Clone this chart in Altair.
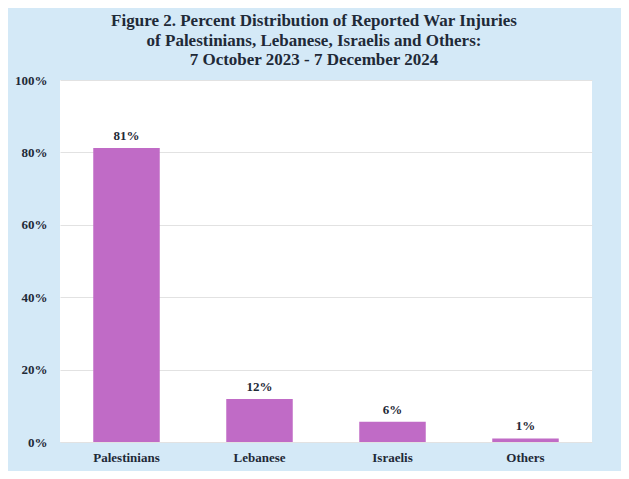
import altair as alt
import pandas as pd

categories = ["Palestinians", "Lebanese", "Israelis", "Others"]
values = [81.2, 11.9, 5.6, 1.0]
labels = ["81%", "12%", "6%", "1%"]
y_ticks = [0, 20, 40, 60, 80, 100]

df = pd.DataFrame({"group": categories, "pct": values, "label": labels})

FONT = "Liberation Serif"
TXT = "#1f2a37"

base = alt.Chart(df).encode(
    x=alt.X("group:N", sort=categories, title=None,
            scale=alt.Scale(paddingInner=0.5, paddingOuter=0.25),
            axis=alt.Axis(labelAngle=0, labelFont=FONT, labelFontWeight="bold",
                          labelFontSize=13, labelColor=TXT, labelPadding=9,
                          domain=False, ticks=False)),
)

bars = base.mark_bar(color="#c06bc6").encode(
    y=alt.Y("pct:Q", title=None,
            scale=alt.Scale(domain=[0, 100], nice=False),
            axis=alt.Axis(values=y_ticks, labelExpr="datum.value + '%'",
                          labelFont=FONT, labelFontWeight="bold", labelFontSize=13,
                          labelColor=TXT, labelPadding=13, domain=False, ticks=False,
                          gridColor="#e2e2e2", gridWidth=1))
)

text = base.mark_text(dy=-5, font=FONT, fontWeight="bold", fontSize=13, color=TXT,
                      baseline="bottom").encode(
    y=alt.Y("pct:Q"),
    text="label:N",
)

chart = (bars + text).properties(
    width=532,
    height=362,
    background="#d4e9f7",
    padding={"left": 52, "top": 72, "right": 29, "bottom": 29},
    autosize=alt.AutoSizeParams(type="none"),
    title=alt.TitleParams(
        text=["Figure 2. Percent Distribution of Reported War Injuries",
              "of Palestinians, Lebanese, Israelis and Others:",
              "7 October 2023 - 7 December 2024"],
        font=FONT, fontWeight="bold", fontSize=17, color=TXT,
        anchor="middle", lineHeight=19.5, offset=5, dx=-12,
    ),
).configure_view(fill="white", stroke=None)

chart.save("out.html", embed_options={"renderer": "svg", "actions": False})
